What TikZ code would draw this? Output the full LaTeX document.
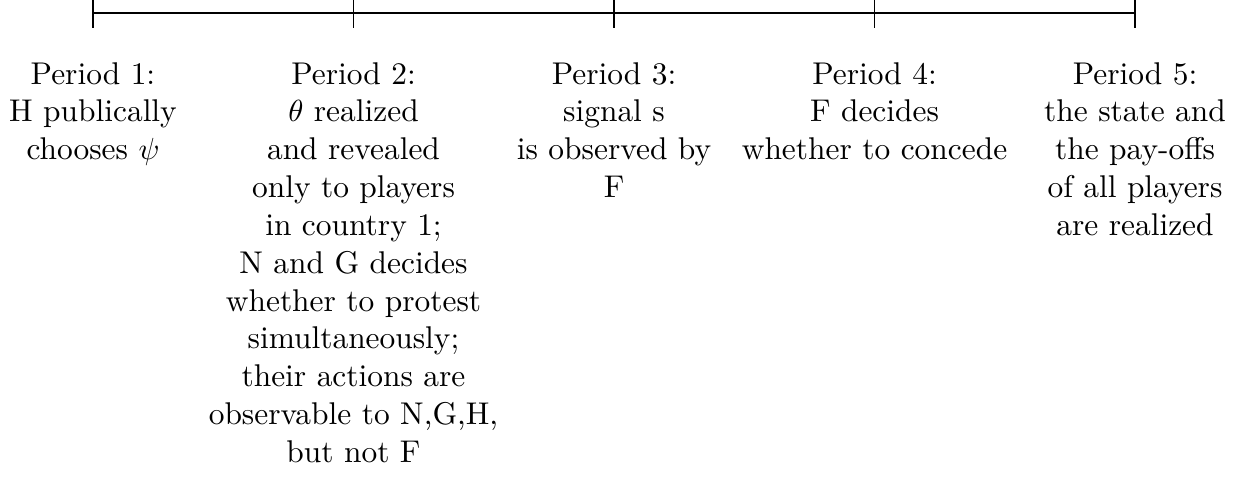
\documentclass[tikz,border=0pt]{standalone}
\usepackage{tikz}
\tikzset{
  px/.style={x=0.011518cm,y=0.011518cm},
  axisline/.style={line width=0.7pt},
  tickline/.style={line width=0.4pt},
  periodtext/.style={anchor=north,align=center,inner sep=3.33pt,font=\fontsize{10.3}{12.4}\selectfont}
}
\begin{document}
\begin{tikzpicture}[px]
\useasboundingbox (-93,13) rectangle (1155,-466);
% tick positions
\foreach \i/\x in {1/0,2/260.5,3/521,4/781.5,5/1042}{
  \coordinate (t\i) at (\x,0);
  \coordinate (tu\i) at (\x,15);
  \coordinate (td\i) at (\x,-15);
  \coordinate (n\i) at (\x,-38.5);
  \draw[tickline] (tu\i) -- (td\i);
}
\draw[axisline] (t1) -- (t5);
\node[periodtext] (p1) at (n1) {Period 1:\\H publically\\chooses $\psi$};
\node[periodtext] (p2) at (n2) {Period 2:\\$\theta$ realized\\and revealed\\only to players\\in country 1;\\N and G decides\\whether to protest\\simultaneously;\\their actions are\\observable to N,G,H,\\but not F};
\node[periodtext] (p3) at (n3) {Period 3:\\signal s\\ is observed by\\F};
\node[periodtext] (p4) at (n4) {Period 4:\\F decides\\whether to concede};
\node[periodtext] (p5) at (n5) {Period 5:\\the state and\\the pay-offs\\of all players\\are realized};
\end{tikzpicture}
\end{document}
